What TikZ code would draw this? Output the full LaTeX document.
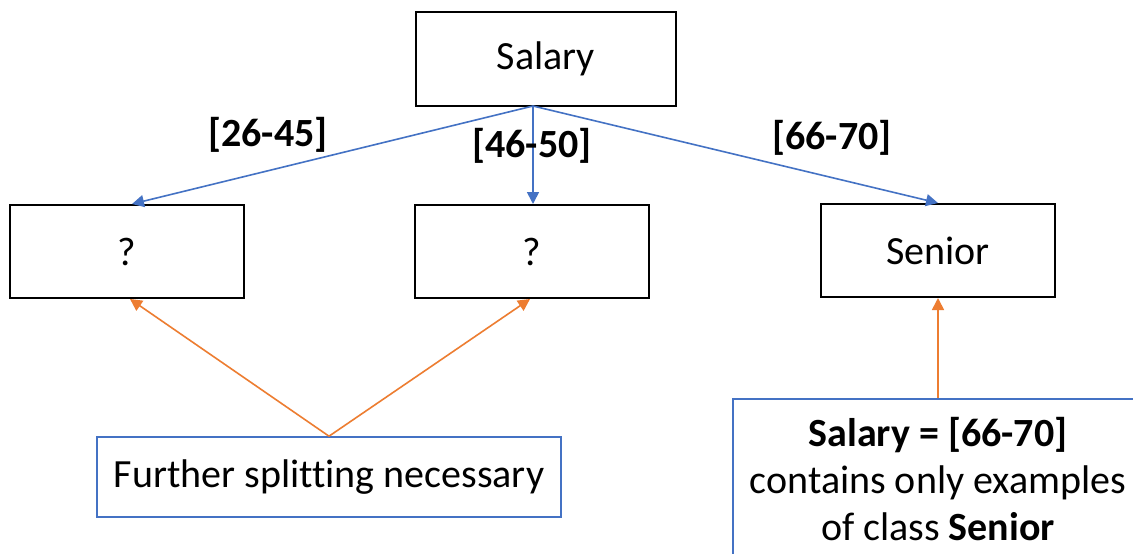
\documentclass[tikz,border=0pt]{standalone}
\usepackage{fontspec}
\setmainfont{Carlito}[Ligatures=NoCommon]
\usetikzlibrary{arrows.meta}
\definecolor{linkblue}{HTML}{4472C4}
\definecolor{noteorange}{HTML}{ED7D31}
\tikzset{
  treebox/.style={draw=black, line width=2pt, minimum width=234pt, minimum height=93pt,
    inner sep=0pt, font=\fontsize{40}{47}\selectfont},
  notebox/.style={draw=linkblue, line width=1.6pt, inner sep=0pt, align=center,
    font=\fontsize{40}{47}\selectfont},
  branch/.style={draw=linkblue, line width=1.6pt, -{Triangle[length=12pt,width=12pt]}},
  hint/.style={draw=noteorange, line width=1.6pt, -{Triangle[length=12pt,width=12pt]}},
  rangelabel/.style={font=\fontsize{40}{47}\selectfont\bfseries, inner sep=0pt}
}
\begin{document}
\begin{tikzpicture}[x=1pt,y=-1pt]
\useasboundingbox (0,0) rectangle (1133,554);
\clip (0,0) rectangle (1133,554);
\fill[white] (0,0) rectangle (1133,554);

% tree nodes
\node[treebox, minimum width=260pt, minimum height=94pt] (salary) at (546,59) {Salary};
\node[treebox] (left) at (127,251.5) {?};
\node[treebox] (mid) at (532,251.5) {?};
\node[treebox] (senior) at (938,250.5) {Senior};

% explanatory notes
\node[notebox, minimum width=464pt, minimum height=80pt] (further) at (329,477) {Further splitting necessary};
\node[notebox, minimum width=410pt, minimum height=161pt, anchor=north] (pure) at (938,398)
  {\textbf{Salary = [66-70]}\\contains only examples\\of class \textbf{Senior}};

% split branches
\coordinate (root) at (533,106);
\draw[branch] (root) -- (left.north -| 132,0);
\draw[branch] (root) -- (mid.north -| 533,0);
\draw[branch] (root) -- (senior.north);

% branch labels
\node[rangelabel] (r1) at (268,135) {[26-45]};
\node[rangelabel] (r2) at (532,146) {[46-50]};
\node[rangelabel] (r3) at (832,138) {[66-70]};

% hints
\draw[hint] (further.north) -- (left.south -| 130,0);
\draw[hint] (further.north) -- (mid.south -| 530,0);
\draw[hint] (pure.north) -- (senior.south);
\end{tikzpicture}
\end{document}
